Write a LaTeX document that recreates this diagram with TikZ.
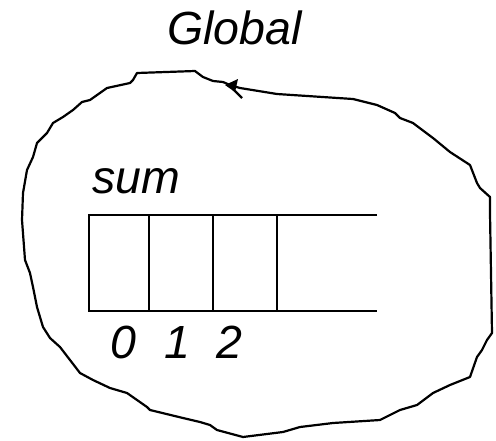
\documentclass[tikz,border=0pt]{standalone}
\usepackage{fontspec}
\setmainfont{Liberation Sans}
\usetikzlibrary{arrows.meta}
\begin{document}
\begin{tikzpicture}[x=1pt,y=-1pt,
  lbl/.style={font=\fontsize{46.5}{50}\selectfont\itshape, inner sep=0pt},
  blob/.style={line width=2.2pt, line join=round},
  cell/.style={line width=1.9pt}]
\useasboundingbox (0,0) rectangle (496,440);
\node[lbl, anchor=base west] (glob) at (167,44) {Global};
\draw[blob] (137,73) -- (195,71) -- (203,77) -- (213,81) -- (223,82) -- (230,85)
  -- (240,88) -- (277,94) -- (353,99) -- (377,105) -- (395,113) -- (400,118)
  -- (413,123) -- (433,138) -- (450,152) -- (470,165) -- (477,183) -- (480,188)
  -- (490,197) -- (490,213) -- (492,333) -- (487,340) -- (482,350) -- (477,357)
  -- (470,377) -- (450,385) -- (433,393) -- (417,405) -- (400,410) -- (380,420)
  -- (333,423) -- (300,427) -- (283,432) -- (243,437) -- (217,430) -- (210,425)
  -- (200,422) -- (183,418) -- (150,410) -- (147,407) -- (127,393) -- (110,388)
  -- (93,380) -- (80,373) -- (70,360) -- (60,347) -- (50,338) -- (43,327)
  -- (37,307) -- (33,287) -- (30,273) -- (25,260) -- (22,220) -- (23,193)
  -- (27,170) -- (33,157) -- (37,143) -- (47,133) -- (53,123) -- (63,117)
  -- (73,110) -- (82,102) -- (90,100) -- (107,88) -- (130,83) -- (133,80) -- cycle;
\coordinate (ahead) at (225,85);
\fill (ahead) -- (238,79) -- (235,92) -- cycle;
\draw[line width=2.2pt] (233,89) -- (242,98);
\node[lbl, anchor=base west] (sum) at (92,193) {sum};
\draw[cell] (377,215) -- (89,215) -- (89,311) -- (377,311);
\draw[cell] (149,215) -- (149,311);
\draw[cell] (213,215) -- (213,311);
\draw[cell] (277,215) -- (277,311);
\node[lbl, anchor=base] (i0) at (123,358) {0};
\node[lbl, anchor=base] (i1) at (177,358) {1};
\node[lbl, anchor=base] (i2) at (229,358) {2};
\end{tikzpicture}
\end{document}
